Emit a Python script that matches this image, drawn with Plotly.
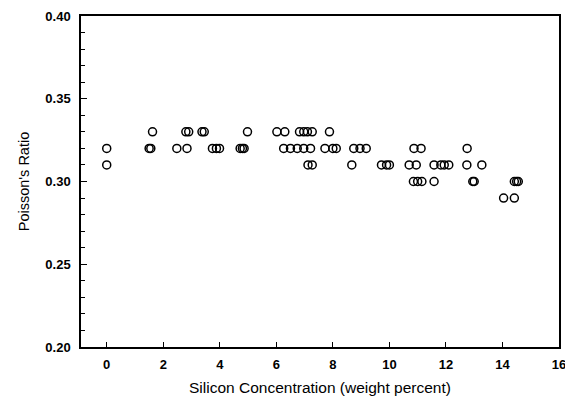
import plotly.graph_objects as go

# Silicon concentration (wt %) and Poisson's ratio
si_033 = [1.62, 2.80, 2.90, 3.37, 3.45, 4.98, 6.02, 6.30, 6.82, 6.97, 7.10, 7.27, 7.88]
si_032 = [0.0, 1.50, 1.56, 2.48, 2.84, 3.74, 3.88, 3.99, 4.72, 4.80, 4.86,
          6.26, 6.50, 6.74, 6.97, 7.21, 7.72, 8.00, 8.12, 8.74, 8.96, 9.18,
          10.87, 11.12, 12.75]
si_031 = [0.0, 7.12, 7.27, 8.67, 9.72, 9.90, 10.00, 10.70, 10.95,
          11.58, 11.82, 11.94, 12.10, 12.74, 13.27]
si_030 = [10.85, 11.00, 11.15, 11.58, 12.95, 13.00, 14.42, 14.50, 14.56]
si_029 = [14.04, 14.42]

silicon = si_033 + si_032 + si_031 + si_030 + si_029
poisson = ([0.33] * len(si_033) + [0.32] * len(si_032) + [0.31] * len(si_031)
           + [0.30] * len(si_030) + [0.29] * len(si_029))

x_ticks = [0, 2, 4, 6, 8, 10, 12, 14, 16]
y_ticks = [0.20, 0.25, 0.30, 0.35, 0.40]

fig = go.Figure(go.Scatter(
    x=silicon, y=poisson, mode="markers",
    marker=dict(symbol="circle-open", size=8, color="black",
                line=dict(width=1.5, color="black")),
    showlegend=False, cliponaxis=False))

font = "Liberation Sans, Arial, Helvetica, sans-serif"
fig.update_layout(
    width=565, height=400,
    margin=dict(l=81, r=6, t=16, b=53, autoexpand=False),
    paper_bgcolor="white", plot_bgcolor="white",
    font=dict(family=font, color="black"),
    xaxis=dict(range=[-0.91, 16], tickvals=x_ticks, ticks="inside", ticklen=5,
               tickwidth=1, tickcolor="black", showline=True, linecolor="black",
               linewidth=1.5, mirror=True, showgrid=False, zeroline=False,
               automargin=False, ticklabeloverflow="allow",
               tickfont=dict(size=13, family=font, weight="bold"),
               ticklabelstandoff=5,
               title=dict(text="Silicon Concentration (weight percent)",
                          font=dict(size=15.5, family=font), standoff=11)),
    yaxis=dict(range=[0.20, 0.40], tickvals=y_ticks, tickformat=".2f",
               ticks="inside", ticklen=6, tickwidth=1, tickcolor="black",
               minor=dict(dtick=0.01, tick0=0.2, ticks="inside", ticklen=4,
                          tickcolor="black", tickwidth=1, showgrid=False),
               showline=True, linecolor="black", linewidth=1.5, mirror=True,
               showgrid=False, zeroline=False, automargin=False,
               tickfont=dict(size=13, family=font, weight="bold"),
               ticklabelstandoff=6,
               title=dict(text="Poisson's Ratio",
                          font=dict(size=14.5, family=font), standoff=12)),
)

fig.write_html("out.html")
